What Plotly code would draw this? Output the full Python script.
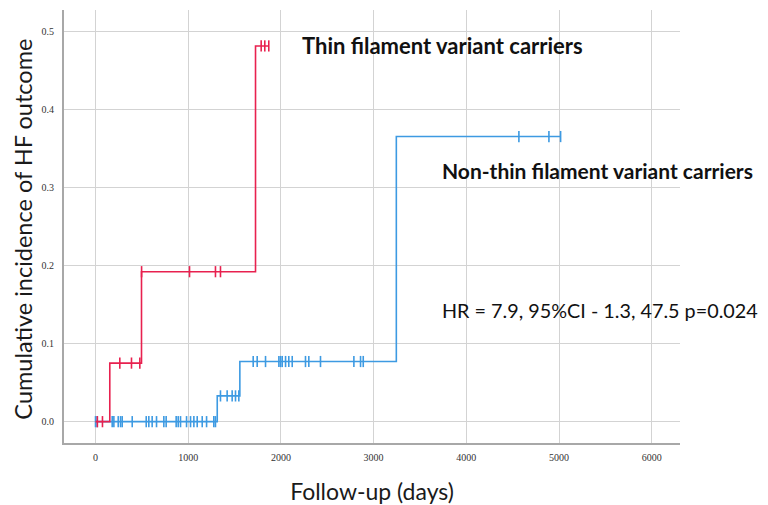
import plotly.graph_objects as go

# ---- data ----
thin_event_days = [154, 496, 1726]
thin_event_cuminc = [0.075, 0.192, 0.481]
thin_censor_days = [20, 75, 262, 388, 478, 497, 1014, 1294, 1348, 1787, 1826, 1869]
thin_end_day = 1870

non_event_days = [1313, 1557, 3245]
non_event_cuminc = [0.033, 0.077, 0.365]
non_censor_days = [0, 18, 180, 198, 245, 270, 288, 396, 547, 575, 611, 658, 737, 762,
                    870, 892, 917, 982, 1025, 1061, 1097, 1151, 1198, 1276, 1294,
                    1348, 1420, 1474, 1510, 1546,
                    1701, 1744, 1834, 1978, 1996, 2014, 2050, 2085, 2122, 2265, 2301,
                    2427, 2787, 2859, 2888,
                    4567, 4891, 5017]
non_end_day = 5017

x_ticks = [0, 1000, 2000, 3000, 4000, 5000, 6000]
y_ticks = [0.0, 0.1, 0.2, 0.3, 0.4, 0.5]
y_ticklabels = ["0.0", "0.1", "0.2", "0.3", "0.4", "0.5"]

RED = "#e8214f"
BLUE = "#3d9ae2"


def step_curve(ev_days, ev_vals, end_day):
    xs = [0] + list(ev_days) + [end_day]
    ys = [0] + list(ev_vals) + [ev_vals[-1]]
    return xs, ys


def value_at(t, ev_days, ev_vals):
    v = 0.0
    for d, val in zip(ev_days, ev_vals):
        if t >= d:
            v = val
    return v


fig = go.Figure()

for ev_d, ev_v, cens, end, col in [
    (non_event_days, non_event_cuminc, non_censor_days, non_end_day, BLUE),
    (thin_event_days, thin_event_cuminc, thin_censor_days, thin_end_day, RED),
]:
    xs, ys = step_curve(ev_d, ev_v, end)
    fig.add_trace(go.Scatter(x=xs, y=ys, mode="lines", line=dict(color=col, width=1.6, shape="hv"),
                             showlegend=False, hoverinfo="skip"))
    fig.add_trace(go.Scatter(x=cens, y=[value_at(t, ev_d, ev_v) for t in cens], mode="markers",
                             marker=dict(symbol="line-ns-open", size=8, color=col,
                                         line=dict(color=col, width=1.6)),
                             showlegend=False, hoverinfo="skip"))

tick_font = dict(family="Liberation Serif", size=10, color="#333333")

fig.update_layout(
    width=760, height=497,
    margin=dict(l=56, r=88, t=2, b=62, autoexpand=False),
    paper_bgcolor="white", plot_bgcolor="white",
    xaxis=dict(range=[-340, 6305], tickvals=x_ticks, ticktext=[str(v) for v in x_ticks],
               showgrid=True, gridcolor="#d3d3d3", gridwidth=1.2, zeroline=False,
               showline=True, linecolor="#a8a8a8", linewidth=2, ticks="",
               tickfont=tick_font, ticklabelstandoff=4, automargin=False,
               title=dict(text="Follow-up (days)", font=dict(family="Lato", size=23, color="#1a1a1a"),
                          standoff=22)),
    yaxis=dict(range=[-0.0273, 0.527], tickvals=y_ticks, ticktext=y_ticklabels,
               showgrid=True, gridcolor="#d3d3d3", gridwidth=1.2, zeroline=False,
               showline=True, linecolor="#a8a8a8", linewidth=2, ticks="",
               tickfont=tick_font, ticklabelstandoff=6, automargin=False),
    annotations=[
        dict(x=-0.0657, y=0.494, xref="paper", yref="paper", text="Cumulative incidence of HF outcome",
             textangle=-90, showarrow=False, xanchor="center", yanchor="middle",
             font=dict(family="Lato", size=23.5, color="#1a1a1a")),
        dict(x=2206, y=0.482, xref="x", yref="y", text="<b>Thin filament variant carriers</b>",
             showarrow=False, xanchor="left", yanchor="middle",
             font=dict(family="Lato", size=22, color="#111111")),
        dict(x=3716, y=0.322, xref="x", yref="y", text="<b>Non-thin filament variant carriers</b>",
             showarrow=False, xanchor="left", yanchor="middle",
             font=dict(family="Lato", size=21, color="#111111")),
        dict(x=3716, y=0.143, xref="x", yref="y", text="HR = 7.9, 95%CI - 1.3, 47.5 p=0.024",
             showarrow=False, xanchor="left", yanchor="middle",
             font=dict(family="Lato", size=19.8, color="#111111")),
    ],
)

fig.write_html("out.html")
